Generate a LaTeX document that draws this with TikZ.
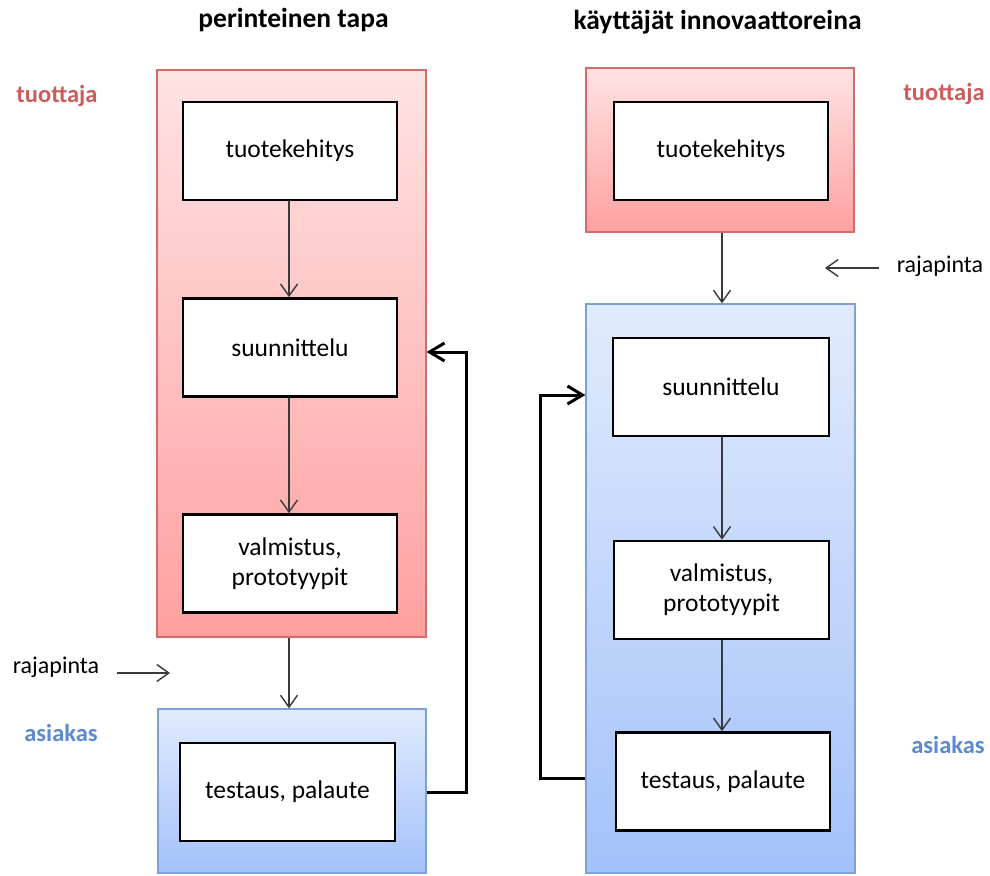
\documentclass[tikz,border=0pt]{standalone}
\usepackage{fontspec}
\setmainfont{Carlito}
\usetikzlibrary{arrows.meta}
\definecolor{redtop}{HTML}{FFE3E3}
\definecolor{redbot}{HTML}{FFA0A0}
\definecolor{redline}{HTML}{D46A6A}
\definecolor{bluetop}{HTML}{E1EBFD}
\definecolor{bluebot}{HTML}{A3C1FA}
\definecolor{blueline}{HTML}{7CA1DA}
\definecolor{redtext}{HTML}{CC5B5B}
\definecolor{bluetext}{HTML}{5A8AD0}
\definecolor{arrowgray}{HTML}{3A3A3A}
\tikzset{
  txt/.style={font=\fontsize{24}{29}\selectfont},
  boxtxt/.style={font=\fontsize{25.5}{30}\selectfont},
  title/.style={font=\fontsize{27.5}{31}\selectfont\bfseries},
  sidelabel/.style={font=\fontsize{24.5}{29}\selectfont\bfseries},
  redzone/.style={draw=redline, line width=1.2pt, top color=redtop, bottom color=redbot,
    minimum width=#1, inner sep=0pt},
  bluezone/.style={draw=blueline, line width=1.2pt, top color=bluetop, bottom color=bluebot,
    minimum width=#1, inner sep=0pt},
  stepbox/.style={draw=black, line width=2.6pt, fill=white, minimum width=214pt,
    minimum height=98pt, align=center, inner sep=0pt, boxtxt},
  thinarrow/.style={draw=arrowgray, line width=1.4pt,
    -{Straight Barb[length=12pt,width=17pt]}},
  fbarrow/.style={draw=black, line width=3pt,
    -{Straight Barb[length=15pt,width=18pt]}},
}
\begin{document}
\begin{tikzpicture}[x=1pt,y=-1pt]
\useasboundingbox (0,0) rectangle (990,875);

% column titles
\node[title] (t1) at (293.5,20) {perinteinen tapa};
\node[title] (t2) at (717.5,22) {käyttäjät innovaattoreina};

% ---- traditional way ----
\node[redzone=269pt, minimum height=567pt] (red1) at (291.5,353.5) {};
\node[bluezone=268pt, minimum height=164pt] (blue1) at (292,791) {};

\node[stepbox] (tk1) at (290,151) {tuotekehitys};
\node[stepbox] (su1) at (290,347.5) {suunnittelu};
\node[stepbox] (va1) at (290,563.5) {valmistus,\\prototyypit};
\node[stepbox, minimum width=215pt] (te1) at (287.5,792) {testaus, palaute};

\node[sidelabel, text=redtext] (p1) at (57,96) {tuottaja};
\node[sidelabel, text=bluetext] (c1) at (61,733) {asiakas};
\node[txt] (raj1) at (56,667) {rajapinta};
\coordinate (r1) at (170,673);

\draw[thinarrow] (tk1.south -| 289,0) -- (su1.north -| 289,0);
\draw[thinarrow] (su1.south -| 289,0) -- (va1.north -| 289,0);
\draw[thinarrow] (red1.south -| 289,0) -- (blue1.north -| 289,0);
\draw[thinarrow, shorten <=14pt] (raj1.east |- r1) -- (r1);

\coordinate (fb1) at (466,352);
\draw[fbarrow] (blue1.east |- te1) -| (fb1) -- (red1.east |- fb1);

% ---- users as innovators ----
\node[redzone=268pt, minimum height=164pt] (red2) at (720,150) {};
\node[bluezone=269pt, minimum height=569pt] (blue2) at (720.5,588.5) {};

\node[stepbox] (tk2) at (721,151) {tuotekehitys};
\node[stepbox, minimum width=216pt] (su2) at (721,387) {suunnittelu};
\node[stepbox, minimum width=215pt] (va2) at (721.5,590) {valmistus,\\prototyypit};
\node[stepbox] (te2) at (723,781.5) {testaus, palaute};

\node[sidelabel, text=redtext] (p2) at (944,94) {tuottaja};
\node[sidelabel, text=bluetext] (c2) at (948,745) {asiakas};
\node[txt] (raj2) at (940,266) {rajapinta};
\coordinate (r2) at (825,268);

\draw[thinarrow] (red2.south -| 722,0) -- (blue2.north -| 722,0);
\draw[thinarrow] (su2.south -| 722,0) -- (va2.north -| 722,0);
\draw[thinarrow] (va2.south -| 722,0) -- (te2.north -| 722,0);
\draw[thinarrow, shorten <=14pt] (raj2.west |- r2) -- (r2);

\coordinate (fb2) at (540,395);
\coordinate (fs2) at (540,778);
\draw[fbarrow] (blue2.west |- fs2) -- (fs2) -- (fb2) -- (blue2.west |- fb2);
\end{tikzpicture}
\end{document}
